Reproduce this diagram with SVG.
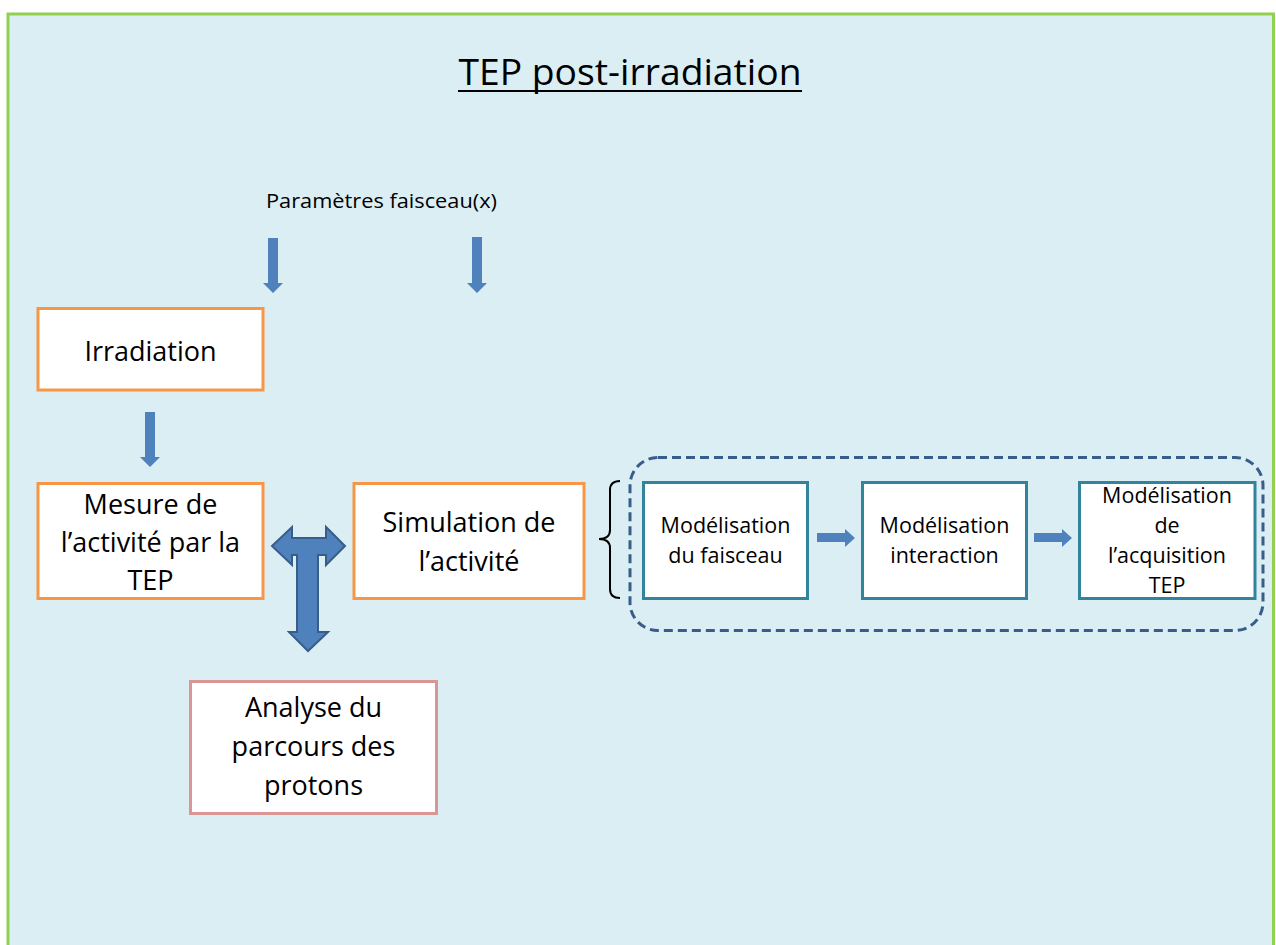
<svg xmlns="http://www.w3.org/2000/svg" width="1276" height="945" viewBox="0 0 1276 945">
<style>
text{font-family:"Open Sans","Noto Sans","Liberation Sans",sans-serif;fill:#000;text-anchor:middle}
.big{font-size:27px}
.small{font-size:21.5px}
.box{fill:#fff;stroke-width:3}
.orange{stroke:#F79646}
.pink{stroke:#D99694}
.teal{stroke:#31849B}
.arrow{fill:#4F81BD}
</style>
<rect x="0" y="0" width="1276" height="945" fill="#fff"/>
<rect x="8" y="14" width="1265.5" height="1000" fill="#DBEEF4" stroke="#92D050" stroke-width="3"/>
<g id="title">
<text x="630" y="85" font-size="37" textLength="343" lengthAdjust="spacingAndGlyphs">TEP post-irradiation</text>
<line x1="458" y1="91" x2="802" y2="91" stroke="#000" stroke-width="2"/>
</g>
<g id="params">
<text x="381.5" y="208" font-size="20" textLength="231" lengthAdjust="spacingAndGlyphs">Paramètres faisceau(x)</text>
</g>
<g id="connectors">
<polygon class="arrow" points="268,238 278,238 278,283 283,283 273,293 263,283 268,283"/>
<polygon class="arrow" points="472,237 482,237 482,283 487,283 477,293 467,283 472,283"/>
<polygon class="arrow" points="145,412 155,412 155,457 160,457 150,467 140,457 145,457"/>
<polygon fill="#4F81BD" stroke="#385D8A" stroke-width="2" stroke-linejoin="miter" points="272,546 292,527 292,538 326,538 326,527 345,546 326,565 326,555 318,555 318,632 328,632 308,651 289,632 297,632 297,555 292,555 292,565"/>
<polygon class="arrow" points="817,533 845,533 845,529 855,538 845,547 845,542 817,542"/>
<polygon class="arrow" points="1034,533 1062,533 1062,529 1072,538 1062,547 1062,542 1034,542"/>
<path d="M620,481 Q610,481 610,490 L610,530 Q610,539 599,539 Q610,539 610,548 L610,589 Q610,598 620,598" fill="none" stroke="#000" stroke-width="2"/>
<rect x="630" y="457.5" width="633" height="173" rx="28" ry="28" fill="none" stroke="#385D8A" stroke-width="3" stroke-dasharray="9,5"/>
</g>
<g id="irradiation">
<rect class="box orange" x="38" y="308.5" width="225" height="81.5"/>
<text class="big" x="150.5" y="361">Irradiation</text>
</g>
<g id="mesure">
<rect class="box orange" x="38" y="483.5" width="225" height="115"/>
<text class="big" x="150.5" y="514">Mesure de</text>
<text class="big" x="150.5" y="552">l’activité par la</text>
<text class="big" x="150.5" y="590">TEP</text>
</g>
<g id="simulation">
<rect class="box orange" x="354" y="483.5" width="230" height="115"/>
<text class="big" x="469" y="532">Simulation de</text>
<text class="big" x="469" y="571">l’activité</text>
</g>
<g id="analyse">
<rect class="box pink" x="190.5" y="681.5" width="246" height="132"/>
<text class="big" x="313.5" y="717">Analyse du</text>
<text class="big" x="313.5" y="756">parcours des</text>
<text class="big" x="313.5" y="795">protons</text>
</g>
<g id="mod-faisceau">
<rect class="box teal" x="643.5" y="482.5" width="164" height="116"/>
<text class="small" x="725.5" y="533">Modélisation</text>
<text class="small" x="725.5" y="563">du faisceau</text>
</g>
<g id="mod-interaction">
<rect class="box teal" x="862.5" y="482.5" width="164" height="116"/>
<text class="small" x="944.5" y="533">Modélisation</text>
<text class="small" x="944.5" y="563">interaction</text>
</g>
<g id="mod-acquisition">
<rect class="box teal" x="1079.5" y="482.5" width="175.5" height="116"/>
<text class="small" x="1167" y="503">Modélisation</text>
<text class="small" x="1167" y="533">de</text>
<text class="small" x="1167" y="563">l’acquisition</text>
<text class="small" x="1167" y="593">TEP</text>
</g>
</svg>
